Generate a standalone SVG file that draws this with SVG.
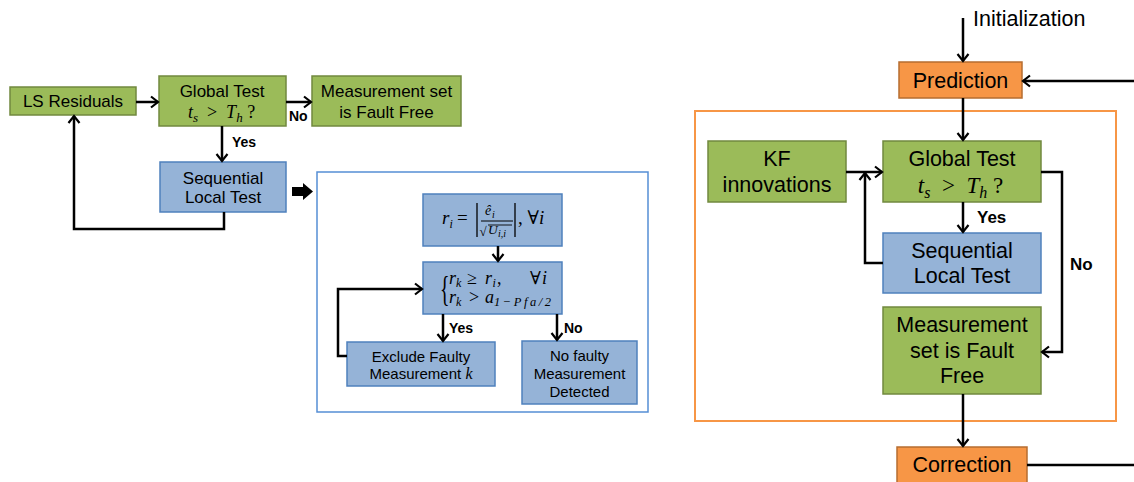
<svg xmlns="http://www.w3.org/2000/svg" width="1134" height="482" viewBox="0 0 1134 482">
<defs>
<style>
.green{fill:#9BBB59;stroke:#71893F;stroke-width:1.5}
.blue{fill:#95B3D7;stroke:#4F81BD;stroke-width:1.5}
.orange{fill:#F79646;stroke:#B66D31;stroke-width:1.5}
.t{font-family:"Liberation Sans",Arial,sans-serif;fill:#000;text-anchor:middle}
.lbl{font-family:"Liberation Sans",Arial,sans-serif;font-weight:bold;fill:#000}
.m{font-family:"Liberation Serif","DejaVu Serif",serif;fill:#000}
.i{font-style:italic}
.c{fill:none;stroke:#000;stroke-width:2.5}
</style>
<marker id="ah" markerUnits="userSpaceOnUse" markerWidth="14" markerHeight="14" refX="11" refY="7" orient="auto">
<path d="M4,1.5 L11,7 L4,12.5" fill="none" stroke="#000" stroke-width="2.2"/>
</marker>
</defs>
<rect width="1134" height="482" fill="#fff"/>

<!-- containers -->
<rect id="localTestBox" x="317" y="172" width="331" height="240" fill="none" stroke="#558ED5" stroke-width="1.5"/>
<rect id="kfBox" x="695" y="111" width="421" height="310" fill="none" stroke="#F79646" stroke-width="2"/>

<!-- left diagram -->
<g id="lsResiduals"><rect class="green" x="10" y="87" width="126" height="28"/><text class="t" x="73" y="107" font-size="17">LS Residuals</text></g>
<g id="globalTestL"><rect class="green" x="159" y="76" width="127" height="50"/>
<text class="t" x="222" y="97" font-size="17">Global Test</text>
<text class="m" x="221.5" y="118" font-size="18" text-anchor="middle" xml:space="preserve"><tspan class="i">t</tspan><tspan class="i" font-size="13" dy="4">s</tspan><tspan dy="-4">  &gt;  </tspan><tspan class="i">T</tspan><tspan class="i" font-size="13" dy="4">h</tspan><tspan dy="-4"> ?</tspan></text></g>
<g id="faultFreeL"><rect class="green" x="312" y="76" width="149" height="50"/>
<text class="t" x="386.5" y="97" font-size="17">Measurement set</text>
<text class="t" x="386.5" y="118" font-size="17">is Fault Free</text></g>
<g id="seqLocalL"><rect class="blue" x="160" y="162" width="126" height="50"/>
<text class="t" x="223" y="184" font-size="17">Sequential</text>
<text class="t" x="223" y="203" font-size="17">Local Test</text></g>
<g id="blockArrow"><polygon points="292,187 303,187 303,183 313,191.5 303,200 303,196 292,196" fill="#000"/></g>

<g id="riBox"><rect class="blue" x="423" y="194" width="139" height="52"/>
<text class="m i" x="442" y="224" font-size="19">r</text><text class="m i" x="449.5" y="228" font-size="12">i</text>
<text class="m" x="457" y="224" font-size="19">=</text>
<line x1="477" y1="203" x2="477" y2="237" stroke="#000" stroke-width="1.3"/>
<text class="m i" x="485" y="215" font-size="14">ê</text><text class="m i" x="492" y="218" font-size="10">i</text>
<line x1="481" y1="221" x2="513" y2="221" stroke="#000" stroke-width="1"/>
<text class="m" x="479.5" y="236" font-size="13">√</text>
<line x1="488" y1="225" x2="512" y2="225" stroke="#000" stroke-width="0.9"/>
<text class="m i" x="488" y="234" font-size="13.5">U</text><text class="m i" x="498" y="237" font-size="10">i,i</text>
<line x1="515" y1="203" x2="515" y2="237" stroke="#000" stroke-width="1.3"/>
<text class="m" x="518" y="224" font-size="19">, ∀<tspan class="i">i</tspan></text></g>

<g id="condBox"><rect class="blue" x="423" y="262" width="139" height="52"/>
<text class="m" x="440" y="301" font-size="36" transform="translate(440 301) scale(0.55 1) translate(-440 -301)">{</text>
<text class="m" y="284" font-size="18"><tspan class="i" x="449">r</tspan><tspan class="i" font-size="12" x="456" dy="3">k</tspan><tspan x="467" dy="-3">≥</tspan><tspan class="i" x="485">r</tspan><tspan class="i" font-size="12" x="492.5" dy="3">i</tspan><tspan x="497" dy="-3">,</tspan><tspan x="530">∀</tspan><tspan class="i" x="542">i</tspan></text>
<text class="m" y="303" font-size="18"><tspan class="i" x="449">r</tspan><tspan class="i" font-size="12" x="456" dy="3">k</tspan><tspan x="469" dy="-3">&gt;</tspan><tspan class="i" x="485">a</tspan><tspan class="i" font-size="12.5" x="494" dy="3" textLength="57" lengthAdjust="spacing">1−Pfa/2</tspan></text></g>

<g id="excludeBox"><rect class="blue" x="347" y="342" width="148" height="44"/>
<text class="t" x="421" y="362" font-size="15">Exclude Faulty</text>
<text class="t" x="421" y="379" font-size="15">Measurement <tspan class="m i" font-size="16">k</tspan></text></g>
<g id="noFaultyBox"><rect class="blue" x="522" y="341" width="115" height="63"/>
<text class="t" x="579.5" y="361" font-size="15">No faulty</text>
<text class="t" x="579.5" y="379" font-size="15">Measurement</text>
<text class="t" x="579.5" y="397" font-size="15">Detected</text></g>

<!-- right diagram -->
<g id="initLabel"><text class="t" x="973" y="26" font-size="21.5" style="text-anchor:start">Initialization</text></g>
<g id="prediction"><rect class="orange" x="899" y="62" width="123" height="36"/><text class="t" x="960.5" y="88" font-size="21.5">Prediction</text></g>
<g id="kfInnov"><rect class="green" x="708" y="141" width="138" height="61"/>
<text class="t" x="777" y="166" font-size="21.5">KF</text><text class="t" x="777" y="192" font-size="21.5">innovations</text></g>
<g id="globalTestR"><rect class="green" x="883" y="141" width="158" height="61"/>
<text class="t" x="962" y="166" font-size="21.5">Global Test</text>
<text class="m" x="960.5" y="193" font-size="23" text-anchor="middle" xml:space="preserve"><tspan class="i">t</tspan><tspan class="i" font-size="16" dy="5">s</tspan><tspan dy="-5">  &gt;  </tspan><tspan class="i">T</tspan><tspan class="i" font-size="16" dy="5">h</tspan><tspan dy="-5"> ?</tspan></text></g>
<g id="seqLocalR"><rect class="blue" x="883" y="233" width="158" height="60"/>
<text class="t" x="962" y="258" font-size="21.5">Sequential</text><text class="t" x="962" y="283" font-size="21.5">Local Test</text></g>
<g id="faultFreeR"><rect class="green" x="883" y="307" width="158" height="87"/>
<text class="t" x="962" y="332" font-size="21.5">Measurement</text>
<text class="t" x="962" y="358" font-size="21.5">set is Fault</text>
<text class="t" x="962" y="383" font-size="21.5">Free</text></g>
<g id="correction"><rect class="orange" x="897" y="447" width="130" height="36"/><text class="t" x="962" y="472" font-size="21.5">Correction</text></g>

<!-- connectors -->
<g id="connectors">
<path class="c" d="M136,102 H158" marker-end="url(#ah)"/>
<path class="c" d="M286,102 H311" marker-end="url(#ah)"/>
<path class="c" d="M222,126 V161" marker-end="url(#ah)"/>
<path class="c" d="M224,212 V229 H74 V116" marker-end="url(#ah)"/>
<path class="c" d="M498,246 V261" marker-end="url(#ah)"/>
<path class="c" d="M443,314 V341" marker-end="url(#ah)"/>
<path class="c" d="M557,314 V340" marker-end="url(#ah)"/>
<path class="c" d="M347,356 H338 V289 H422" marker-end="url(#ah)"/>
<path class="c" d="M963,18 V61" marker-end="url(#ah)"/>
<path class="c" d="M1134,81 H1023" marker-end="url(#ah)"/>
<path class="c" d="M963,98 V140" marker-end="url(#ah)"/>
<path class="c" d="M846,172 H882" marker-end="url(#ah)"/>
<path class="c" d="M883,263 H865 V173" marker-end="url(#ah)"/>
<path class="c" d="M963,202 V232" marker-end="url(#ah)"/>
<path class="c" d="M1041,172 H1062 V352 H1042" marker-end="url(#ah)"/>
<path class="c" d="M963,394 V446" marker-end="url(#ah)"/>
<path class="c" d="M1027,465 H1134"/>
</g>

<g id="labels">
<text class="lbl" x="232" y="147" font-size="14">Yes</text>
<text class="lbl" x="289" y="121" font-size="14">No</text>
<text class="lbl" x="449" y="333" font-size="14">Yes</text>
<text class="lbl" x="564" y="333" font-size="14">No</text>
<text class="lbl" x="977" y="223" font-size="17">Yes</text>
<text class="lbl" x="1070" y="270" font-size="17">No</text>
</g>
</svg>
